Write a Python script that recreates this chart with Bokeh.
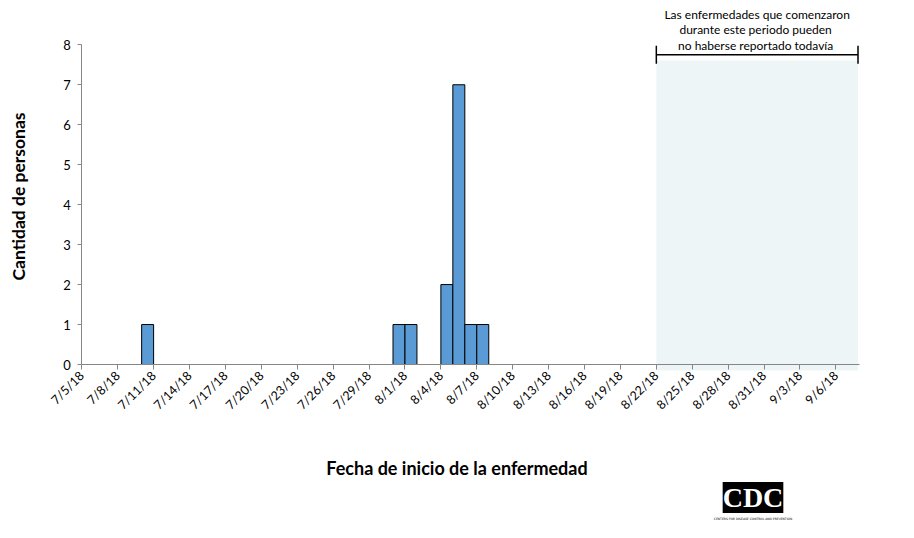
import math
import numpy as np
from bokeh.plotting import figure
from bokeh.models import Range1d, FixedTicker, Label, Arrow, TeeHead
from bokeh.embed import file_html
from bokeh.resources import INLINE

# ---- data ----
case_dates = ["2018-07-10", "2018-07-31", "2018-08-01", "2018-08-04",
              "2018-08-05", "2018-08-06", "2018-08-07"]
case_counts = [1, 1, 1, 2, 7, 1, 1]

tick_dates = ["2018-07-05", "2018-07-08", "2018-07-11", "2018-07-14", "2018-07-17",
              "2018-07-20", "2018-07-23", "2018-07-26", "2018-07-29", "2018-08-01",
              "2018-08-04", "2018-08-07", "2018-08-10", "2018-08-13", "2018-08-16",
              "2018-08-19", "2018-08-22", "2018-08-25", "2018-08-28", "2018-08-31",
              "2018-09-03", "2018-09-06"]
tick_labels = ["7/5/18", "7/8/18", "7/11/18", "7/14/18", "7/17/18", "7/20/18",
               "7/23/18", "7/26/18", "7/29/18", "8/1/18", "8/4/18", "8/7/18",
               "8/10/18", "8/13/18", "8/16/18", "8/19/18", "8/22/18", "8/25/18",
               "8/28/18", "8/31/18", "9/3/18", "9/6/18"]
y_ticks = [0, 1, 2, 3, 4, 5, 6, 7, 8]
y_max = 8

axis_start = "2018-07-05"
axis_end = "2018-09-08"
lag_start = "2018-08-22"
lag_end = "2018-09-08"
lag_note = ["Las enfermedades que comenzaron",
            "durante este periodo  pueden",
            "no haberse reportado  todavía"]
x_title = "Fecha de inicio de la enfermedad"
y_title = "Cantidad de personas"

DAY = 86400000.0


def ms_list(d):
    return [float(v) for v in np.array(d, dtype="datetime64[ms]").astype("int64")]


def ms(d):
    return ms_list([d])[0]


bar_left = ms_list(case_dates)
bar_right = [v + DAY for v in bar_left]
tick_ms = ms_list(tick_dates)

# ---- layout geometry (pixels) ----
W, H = 914, 538
AX_L, AX_R = 81.3, 859.3      # x pixel of axis start / end
AX_T, AX_B = 44.3, 364.0      # y pixel of y_max / zero
t0, t1 = ms(axis_start), ms(axis_end)
ppx = (t1 - t0) / (AX_R - AX_L)          # ms per pixel
ppy = y_max / (AX_B - AX_T)              # units per pixel
x_lo = t0 - AX_L * ppx
x_hi = t0 + (W - AX_L) * ppx
y_lo = -(H - AX_B) * ppy
y_hi = AX_B * ppy


def sx(px):
    return t0 + (px - AX_L) * ppx


def sy(py):
    return (AX_B - py) * ppy


FONT = "Lato"

p = figure(width=W, height=H, x_axis_type="datetime",
           x_range=Range1d(x_lo, x_hi), y_range=Range1d(y_lo, y_hi),
           output_backend="svg", toolbar_location=None,
           min_border=0)
p.outline_line_color = None
p.grid.visible = False
p.background_fill_color = "white"
p.border_fill_color = "white"

x0 = ms(lag_start)
x1 = ms(lag_end) - 0.15 * DAY

# shaded reporting-lag region
p.quad(left=[x0], right=[x1], bottom=[sy(AX_B + 6)], top=[sy(60)],
       fill_color="#EDF5F7", line_color=None)

# bars
p.quad(left=bar_left, right=bar_right, bottom=0, top=case_counts,
       fill_color="#5B9BD5", line_color="black", line_width=1)

# x axis
xa = p.xaxis[0]
xa.fixed_location = 0
xa.bounds = (t0, t1)
xa.ticker = FixedTicker(ticks=tick_ms, minor_ticks=[])
xa.major_label_overrides = {t: l for t, l in zip(tick_ms, tick_labels)}
xa.major_label_orientation = math.pi / 4
xa.axis_line_color = "#868686"
xa.major_tick_line_color = "#868686"
xa.major_tick_out = 5
xa.major_tick_in = 0
xa.minor_tick_line_color = None
xa.major_label_text_font = FONT
xa.major_label_text_font_size = "12.5px"
xa.major_label_text_color = "black"
xa.major_label_standoff = 4

# y axis
ya = p.yaxis[0]
ya.fixed_location = t0
ya.bounds = (0, y_max)
ya.ticker = FixedTicker(ticks=y_ticks, minor_ticks=[])
ya.axis_line_color = "#868686"
ya.major_tick_line_color = "#868686"
ya.major_tick_out = 4
ya.major_tick_in = 0
ya.minor_tick_line_color = None
ya.major_label_text_font = FONT
ya.major_label_text_font_size = "13px"
ya.major_label_text_color = "black"
ya.major_label_standoff = 7

# axis titles
p.add_layout(Label(x=sx(456.5), y=sy(467), text=x_title, text_align="center",
                   text_baseline="middle", text_font=FONT, text_font_style="bold",
                   text_font_size="18px", text_color="black"))
p.add_layout(Label(x=sx(18), y=sy(196), text=y_title, angle=math.pi / 2,
                   text_align="center", text_baseline="middle", text_font=FONT,
                   text_font_style="bold", text_font_size="17.5px",
                   text_color="black"))

# bracket above lag region
yb = sy(54.3)
p.add_layout(Arrow(start=TeeHead(size=18, line_color="black", line_width=1.5),
                   end=TeeHead(size=18, line_color="black", line_width=1.5),
                   x_start=x0, y_start=yb, x_end=x1, y_end=yb,
                   line_color="black", line_width=1.5))
xm = (x0 + x1) / 2
for i, txt in enumerate(lag_note):
    p.add_layout(Label(x=xm, y=sy(13.5 + 15.5 * i), text=txt,
                       text_align="center", text_baseline="middle", text_font=FONT,
                       text_font_size="12px", text_color="black"))

# approximate CDC logo
logo_x = sx(752.5)
p.add_layout(Label(x=logo_x, y=sy(497), text="CDC",
                   text_align="center", text_baseline="middle",
                   text_font="Liberation Serif", text_font_style="bold",
                   text_font_size="28px", text_color="white",
                   background_fill_color="black"))
p.add_layout(Label(x=logo_x, y=sy(518),
                   text="CENTERS FOR DISEASE CONTROL AND PREVENTION",
                   text_align="center", text_baseline="middle",
                   text_font="DejaVu Sans", text_font_size="3px", text_color="black"))

open("out.html", "w").write(file_html(p, INLINE))
